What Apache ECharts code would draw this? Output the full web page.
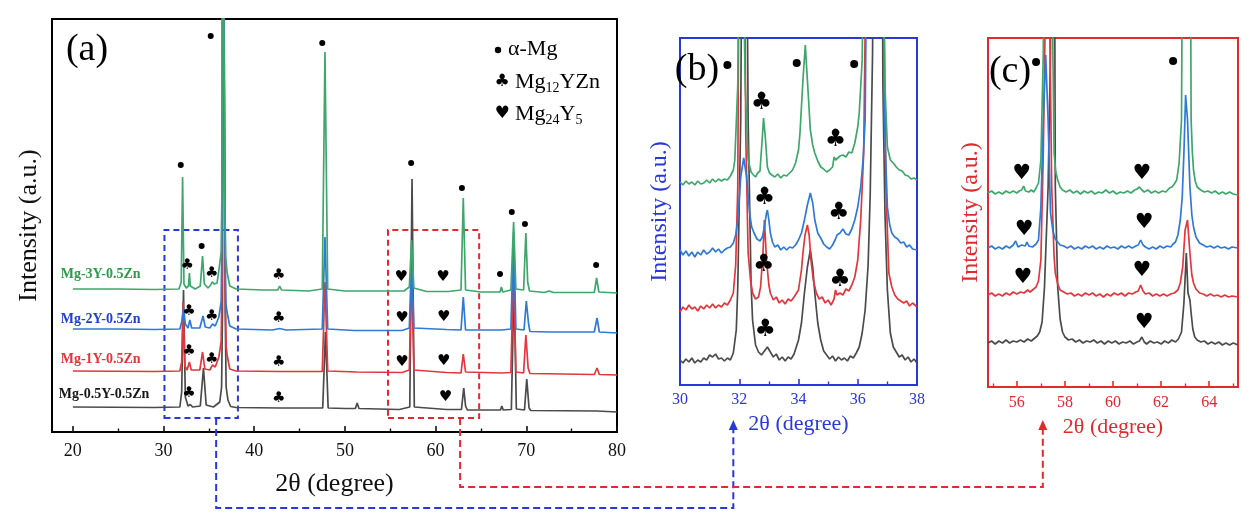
<!DOCTYPE html>
<html><head><meta charset="utf-8">
<script src="https://cdn.jsdelivr.net/npm/echarts@6.0.0/dist/echarts.min.js"></script>
<style>html,body{margin:0;padding:0;background:#fff}#c{width:1253px;height:520px}</style>
</head><body><div id="c"></div>
<script>
// ---------- DATA (2θ in degree, intensity in a.u. as plotted, stacked) ----------
const sampleNames = ['Mg-0.5Y-0.5Zn','Mg-1Y-0.5Zn','Mg-2Y-0.5Zn','Mg-3Y-0.5Zn'];

// panel (a): full patterns 20-80°
const aGrey = [[20,25],[29,24.5],[31.8,25],[32.0,40],[32.2,142],[32.4,35],[32.7,26],[32.95,27.5],[33.2,25],[34.05,26],[34.4,64],[34.7,27],[35.5,25],[36.2,30],[36.4,45],[36.5,120],[36.57,700],[36.72,700],[36.8,120],[36.9,45],[37.1,32],[37.4,25.5],[38,24.5],[42.8,24],[47.55,24],[47.85,100],[48.15,24],[50,23.5],[51.15,23.5],[51.35,29],[51.55,23.5],[56,22.5],[57.15,25],[57.4,253],[57.65,25],[61.2,22.5],[62.85,22.5],[63.1,44],[63.3,26],[63.5,22],[67.15,22],[67.3,26],[67.45,22],[68.35,22.5],[68.65,150],[68.9,23],[69.8,22],[70.05,53],[70.3,24],[70.5,21.5],[77.8,21],[80,20]];
const aRed = [[20,61],[29,60.5],[31.8,61],[32.0,70],[32.15,130],[32.35,66],[32.6,62],[32.85,70],[33.05,62],[34.0,62],[34.3,80],[34.55,63],[35.1,62],[35.4,67],[35.7,65],[36.1,75],[36.35,90],[36.47,160],[36.54,700],[36.7,700],[36.78,160],[36.9,85],[37.05,75],[37.3,63],[38,61],[42.8,60.5],[47.5,60.5],[47.8,150],[48.1,61],[51.3,60],[56.3,59.5],[57.1,62],[57.35,165],[57.6,62],[61.2,59.5],[62.8,59],[63.05,78],[63.3,60],[67.3,59],[68.3,59.5],[68.6,170],[68.85,60],[69.7,59],[69.95,97],[70.2,64],[70.4,58.5],[77.5,57.5],[77.8,64],[78.05,57.5],[80,57]];
const aBlue = [[20,103],[25,103],[29,102.5],[31.8,103],[32.0,110],[32.2,124],[32.4,108],[32.7,104],[32.9,112],[33.1,104],[34.0,104],[34.35,116],[34.6,105],[35.1,104],[35.4,108],[35.7,106],[36.1,115],[36.35,130],[36.45,200],[36.52,700],[36.68,700],[36.76,200],[36.88,128],[37.0,120],[37.3,106],[38,103],[42,102],[42.8,103.5],[43.5,102],[47.5,103],[47.8,195],[48.1,103],[51,101.5],[56.3,101.5],[57.1,104],[57.35,175],[57.6,104],[61.2,102.5],[62.8,102],[63.05,135],[63.3,102],[67.3,102],[68.3,103],[68.6,200],[68.85,103],[69.75,102],[70.0,131],[70.25,108],[70.4,100.5],[72.5,100],[77.5,100],[77.8,114],[78.05,100],[80,99]];
const aGreen = [[20,143],[25,143],[29,142.5],[31.7,143],[31.95,150],[32.1,255],[32.25,148],[32.5,144],[32.75,146],[32.85,159],[32.95,146],[33.5,143],[34.05,146],[34.3,176],[34.5,148],[34.9,144],[35.2,147],[35.35,150],[35.6,148],[35.9,149],[36.15,165],[36.35,180],[36.44,240],[36.5,700],[36.66,700],[36.74,240],[36.86,175],[37.0,160],[37.3,146],[38,143],[41,142],[42.6,142],[42.8,146],[43.0,142],[46,141],[47.5,143],[47.8,380],[48.1,143],[50,141],[53,141],[56.1,141],[56.3,143],[56.5,141],[57.1,145],[57.35,192],[57.6,144],[59,140.5],[61.0,140.5],[61.2,142],[61.4,140.5],[62.8,142],[63.05,234],[63.3,142],[65,140],[67.1,140],[67.25,145],[67.4,140],[68.3,142],[68.6,210],[68.85,143],[69.7,142],[69.95,199],[70.15,150],[70.35,141],[72,139.5],[72.5,141],[73,139.5],[77.5,139.5],[77.75,154],[78.0,140],[80,139]];

// panel (b): 30-38°
const bGrey = [[30.0,25],[30.1,22],[30.2,26],[30.3,23],[30.4,27],[30.5,22],[30.6,25],[30.7,23],[30.8,27],[30.9,25],[31.0,30],[31.1,28],[31.2,31],[31.3,26],[31.4,27],[31.5,24],[31.6,27],[31.7,25],[31.8,32],[31.9,55],[31.95,98],[32.05,265],[32.12,600],[32.22,600],[32.3,265],[32.4,100],[32.45,65],[32.55,40],[32.65,33],[32.75,30],[32.85,34],[32.95,38],[33.05,33],[33.15,28],[33.25,31],[33.35,25],[33.45,28],[33.55,24],[33.65,28],[33.75,26],[33.85,31],[34.0,45],[34.1,62],[34.2,92],[34.3,118],[34.4,135],[34.48,118],[34.55,92],[34.65,62],[34.75,45],[34.85,34],[34.95,30],[35.05,26],[35.15,29],[35.25,24],[35.35,28],[35.45,25],[35.55,27],[35.65,24],[35.75,29],[35.85,27],[35.95,32],[36.05,38],[36.15,52],[36.25,75],[36.35,120],[36.42,190],[36.5,332],[36.55,600],[36.8,600],[36.85,298],[36.92,170],[37.0,95],[37.1,52],[37.2,38],[37.3,33],[37.4,28],[37.5,30],[37.6,25],[37.7,28],[37.8,23],[37.9,26],[38.0,22]];
const bRed = [[30.0,73],[30.1,78],[30.2,75],[30.3,80],[30.4,76],[30.5,78],[30.6,74],[30.7,79],[30.8,76],[30.9,80],[31.0,77],[31.1,81],[31.2,77],[31.3,80],[31.4,78],[31.5,82],[31.6,80],[31.7,85],[31.8,92],[31.88,120],[31.95,198],[32.02,600],[32.15,600],[32.22,250],[32.3,132],[32.38,105],[32.45,92],[32.55,86],[32.65,88],[32.72,98],[32.8,132],[32.85,165],[32.92,125],[33.0,100],[33.05,92],[33.15,85],[33.25,88],[33.35,82],[33.45,85],[33.55,81],[33.65,86],[33.75,84],[33.85,88],[34.0,95],[34.1,115],[34.15,132],[34.22,150],[34.3,160],[34.36,150],[34.42,125],[34.5,105],[34.6,92],[34.7,86],[34.8,88],[34.9,82],[35.0,85],[35.1,80],[35.2,86],[35.25,95],[35.3,90],[35.4,92],[35.5,90],[35.6,96],[35.7,94],[35.8,100],[35.9,108],[36.0,125],[36.1,165],[36.2,232],[36.35,600],[36.8,600],[36.95,198],[37.05,112],[37.15,98],[37.25,90],[37.35,86],[37.45,84],[37.55,82],[37.65,84],[37.75,79],[37.85,82],[38.0,78]];
const bBlue = [[30.0,135],[30.1,130],[30.2,134],[30.3,129],[30.4,133],[30.5,128],[30.6,133],[30.7,130],[30.8,135],[30.9,131],[31.0,133],[31.1,137],[31.2,133],[31.3,136],[31.4,132],[31.5,135],[31.6,137],[31.7,138],[31.8,142],[31.88,150],[31.95,165],[32.05,208],[32.15,227],[32.25,208],[32.35,172],[32.42,158],[32.5,152],[32.6,146],[32.7,144],[32.78,148],[32.85,158],[32.92,172],[32.95,175],[33.0,165],[33.05,152],[33.12,143],[33.2,138],[33.3,140],[33.4,135],[33.5,138],[33.6,135],[33.7,138],[33.8,137],[33.9,140],[34.0,145],[34.1,152],[34.2,165],[34.3,180],[34.4,192],[34.48,182],[34.55,165],[34.65,152],[34.75,147],[34.85,141],[34.95,138],[35.05,136],[35.15,140],[35.25,146],[35.3,150],[35.4,152],[35.5,156],[35.6,151],[35.7,150],[35.8,156],[35.9,165],[36.0,178],[36.1,198],[36.18,225],[36.25,265],[36.35,600],[36.8,600],[36.9,265],[37.0,178],[37.08,160],[37.15,152],[37.25,148],[37.35,146],[37.45,142],[37.55,143],[37.65,138],[37.75,140],[37.85,136],[38.0,135]];
const bGreen = [[30.0,203],[30.1,200],[30.2,204],[30.3,201],[30.4,203],[30.5,200],[30.6,204],[30.7,201],[30.8,202],[30.9,205],[31.0,202],[31.1,206],[31.2,203],[31.3,206],[31.4,204],[31.5,206],[31.6,205],[31.7,209],[31.8,215],[31.85,225],[31.95,300],[32.05,600],[32.2,300],[32.3,225],[32.4,213],[32.48,210],[32.55,208],[32.62,212],[32.7,214],[32.78,248],[32.82,267],[32.88,248],[32.95,218],[33.02,212],[33.1,210],[33.2,208],[33.3,211],[33.4,207],[33.5,210],[33.6,209],[33.7,212],[33.8,215],[33.9,222],[34.0,235],[34.05,252],[34.15,305],[34.23,340],[34.3,305],[34.4,255],[34.48,240],[34.55,232],[34.65,224],[34.75,218],[34.85,216],[34.95,213],[35.05,215],[35.15,218],[35.2,228],[35.25,225],[35.3,227],[35.4,229],[35.5,230],[35.6,228],[35.7,233],[35.8,232],[35.9,242],[36.0,258],[36.05,272],[36.15,325],[36.25,600],[36.8,600],[36.92,298],[37.0,238],[37.1,225],[37.2,222],[37.3,218],[37.4,215],[37.5,214],[37.6,210],[37.7,209],[37.8,206],[37.9,207],[38.0,205]];

// panel (c): 55-65°
const cGrey = [[54.8,44],[54.95,46],[55.1,43],[55.25,46],[55.4,44],[55.55,47],[55.7,44],[55.85,46],[56.0,45],[56.15,47],[56.3,45],[56.45,48],[56.6,46],[56.75,49],[56.85,51],[56.95,55],[57.05,65],[57.15,100],[57.3,200],[57.4,334],[57.45,600],[57.55,600],[57.6,200],[57.7,100],[57.8,68],[57.9,55],[58.0,50],[58.15,47],[58.3,48],[58.45,45],[58.6,47],[58.75,44],[58.9,46],[59.05,45],[59.2,47],[59.35,44],[59.5,46],[59.65,43],[59.8,46],[59.95,44],[60.1,46],[60.25,43],[60.4,45],[60.55,44],[60.7,46],[60.85,43],[61.0,45],[61.1,46],[61.2,50],[61.3,45],[61.4,43],[61.55,46],[61.7,44],[61.85,45],[62.0,43],[62.15,46],[62.3,44],[62.45,47],[62.6,45],[62.72,48],[62.85,55],[62.95,84],[63.05,134],[63.12,94],[63.2,87],[63.25,74],[63.32,58],[63.4,50],[63.5,47],[63.65,45],[63.8,46],[63.95,43],[64.1,45],[64.25,43],[64.4,45],[64.55,42],[64.7,44],[64.85,42],[65.0,44],[65.2,42]];
const cRed = [[54.8,92],[54.95,94],[55.1,91],[55.25,93],[55.4,91],[55.55,94],[55.7,92],[55.85,95],[56.0,93],[56.15,95],[56.3,94],[56.45,97],[56.55,95],[56.7,98],[56.8,100],[56.9,106],[57.0,127],[57.1,234],[57.2,400],[57.35,400],[57.45,200],[57.55,130],[57.6,114],[57.7,103],[57.8,97],[57.95,95],[58.1,93],[58.25,94],[58.4,91],[58.55,93],[58.7,91],[58.85,94],[59.0,92],[59.15,94],[59.3,91],[59.45,93],[59.6,90],[59.75,93],[59.9,91],[60.05,94],[60.2,92],[60.35,94],[60.5,91],[60.65,94],[60.8,93],[60.95,95],[61.05,96],[61.15,102],[61.25,96],[61.35,93],[61.5,94],[61.65,91],[61.8,93],[61.95,91],[62.1,93],[62.25,91],[62.4,93],[62.55,94],[62.7,97],[62.8,104],[62.9,120],[63.0,157],[63.1,167],[63.2,134],[63.28,112],[63.35,104],[63.45,98],[63.6,94],[63.75,93],[63.9,91],[64.05,93],[64.2,91],[64.35,92],[64.5,90],[64.65,92],[64.8,90],[64.95,91],[65.2,90]];
const cBlue = [[54.8,139],[54.95,141],[55.1,138],[55.25,140],[55.4,138],[55.55,141],[55.7,139],[55.85,142],[55.95,146],[56.05,140],[56.2,142],[56.35,141],[56.42,145],[56.5,141],[56.65,140],[56.8,143],[56.9,147],[57.0,180],[57.1,267],[57.2,332],[57.3,267],[57.4,174],[57.5,156],[57.6,148],[57.7,145],[57.8,142],[57.95,141],[58.1,139],[58.25,141],[58.4,138],[58.55,140],[58.7,138],[58.85,141],[59.0,139],[59.15,141],[59.3,138],[59.45,140],[59.6,138],[59.75,141],[59.9,139],[60.05,140],[60.2,138],[60.35,141],[60.5,139],[60.65,141],[60.8,139],[60.95,141],[61.05,142],[61.15,147],[61.25,142],[61.35,140],[61.5,138],[61.65,140],[61.8,138],[61.95,141],[62.1,139],[62.25,141],[62.4,140],[62.5,143],[62.6,145],[62.7,152],[62.8,167],[62.88,190],[62.95,234],[63.02,292],[63.1,267],[63.2,200],[63.28,172],[63.35,160],[63.45,150],[63.6,144],[63.75,142],[63.9,140],[64.05,141],[64.2,139],[64.35,141],[64.5,139],[64.65,140],[64.8,138],[64.95,140],[65.2,139]];
const cGreen = [[54.8,194],[54.95,196],[55.1,193],[55.25,195],[55.4,193],[55.55,196],[55.7,194],[55.85,196],[56.0,194],[56.1,196],[56.2,197],[56.28,201],[56.36,196],[56.5,195],[56.6,197],[56.7,195],[56.8,199],[56.9,204],[57.0,227],[57.1,334],[57.15,600],[57.45,600],[57.5,334],[57.55,234],[57.62,215],[57.7,207],[57.8,200],[57.9,197],[58.05,195],[58.2,197],[58.35,194],[58.5,196],[58.65,193],[58.8,196],[58.95,194],[59.1,196],[59.25,193],[59.4,195],[59.55,194],[59.7,197],[59.85,194],[60.0,196],[60.15,193],[60.3,195],[60.45,194],[60.6,196],[60.75,194],[60.9,197],[61.0,198],[61.1,200],[61.2,197],[61.3,195],[61.45,197],[61.6,194],[61.75,196],[61.9,194],[62.05,196],[62.2,195],[62.35,199],[62.45,200],[62.55,203],[62.65,207],[62.75,224],[62.85,267],[62.92,600],[63.2,600],[63.25,267],[63.3,235],[63.35,217],[63.42,206],[63.5,200],[63.65,197],[63.8,195],[63.95,196],[64.1,194],[64.25,196],[64.4,193],[64.55,195],[64.7,193],[64.85,195],[65.0,193],[65.2,192]];

// phase markers  (● α-Mg, ♣ Mg12YZn, ♥ Mg24Y5)
const aDots = [[31.9,267],[34.2,186],[35.2,396],[47.5,389],[57.3,269],[62.9,244],[67.1,158],[68.4,220],[69.85,208],[77.7,167]];
const aClubs = [[32.6,167],[35.3,159],[42.7,157],[32.8,121],[35.3,116],[42.7,114],[32.8,81],[35.3,73],[42.7,70],[32.8,39],[42.7,34]];
const aHearts = [[56.2,155],[60.8,155],[56.3,114],[60.9,115],[56.3,70],[60.9,71],[61.1,35]];
const bDots = [[31.6,320],[33.94,322],[35.88,321]];
const bClubs = [[32.75,282],[35.25,245],[32.85,187],[35.36,172],[32.83,120],[35.4,105],[32.88,55]];
const cDots = [[56.8,325],[62.5,326]];
const cHearts = [[56.2,213],[61.2,213],[56.3,157],[61.3,164],[56.25,109],[61.2,116],[61.3,64]];

// sample name anchors in panel (a)
const aNameAnchors = [[18.4,38],[18.6,73],[18.6,113],[18.6,158]];

// zoom windows drawn in panel (a)
const zoomB = [30.1, 38.2];
const zoomC = [54.75, 64.8];

// tick values
const aMajor = [20,30,40,50,60,70,80], aMinor = [25,35,45,55,65,75];
const bMajor = [30,32,34,36,38], bMinor = [31,33,35,37];
const cMajor = [56,58,60,62,64], cMinor = [55,57,59,61,63,65];

// ---------- STYLE ----------
const SERIF = 'Liberation Serif';
const GLYPH = 'DejaVu Sans';
const COL = ['#4b4b4b','#e2373c','#2e7ad6','#3ea76b'];
const NAMECOL = ['#161616','#e23535','#1f3fcf','#2e9a4c'];
const BLUE_ACC = '#2a37dc', RED_ACC = '#e2292e';

const chart = echarts.init(document.getElementById('c'), null, {renderer:'canvas'});

function xAxes(grid, min, max, major, minor, color, fs, margin, name, nameSize, nameGap){
  return [
    {gridIndex:grid, type:'value', min, max, position:'bottom',
     axisLine:{show:false}, splitLine:{show:false},
     axisTick:{show:true, inside:true, customValues:major, length:6, lineStyle:{color, width:1.6}},
     axisLabel:{show:true, customValues:major, color, fontFamily:SERIF, fontSize:fs, margin},
     name, nameLocation:'middle', nameGap, nameTextStyle:{color, fontFamily:SERIF, fontSize:nameSize}},
    {gridIndex:grid, type:'value', min, max, position:'bottom',
     axisLine:{show:false}, splitLine:{show:false}, axisLabel:{show:false},
     axisTick:{show:true, inside:true, customValues:minor, length:3.5, lineStyle:{color, width:1.4}}}
  ];
}
function yAxis(grid, max, color, nameSize, nameGap){
  return {gridIndex:grid, type:'value', min:0, max, axisLine:{show:false}, axisTick:{show:false},
    axisLabel:{show:false}, splitLine:{show:false},
    name:'Intensity (a.u.)', nameLocation:'middle', nameGap,
    nameTextStyle:{color, fontFamily:SERIF, fontSize:nameSize}};
}
function line(data, color, xi, yi, w){
  return {type:'line', data, xAxisIndex:xi, yAxisIndex:yi, symbol:'none', showSymbol:false,
    lineStyle:{color, width:w}, itemStyle:{color}, clip:true, silent:true, z:2};
}
function dots(data, xi, yi, size){
  return {type:'scatter', data, xAxisIndex:xi, yAxisIndex:yi, symbol:'circle', symbolSize:size,
    itemStyle:{color:'#000', opacity:1}, silent:true, z:4};
}
function glyphs(data, xi, yi, ch, fs){
  return {type:'scatter', data, xAxisIndex:xi, yAxisIndex:yi, symbolSize:1,
    itemStyle:{color:'rgba(0,0,0,0)', opacity:1}, silent:true, z:4,
    label:{show:true, position:'inside', formatter:ch, fontFamily:GLYPH, fontSize:fs, color:'#000', opacity:1}};
}

const series = [];
[[aGrey,aRed,aBlue,aGreen,0,0,1.7],[bGrey,bRed,bBlue,bGreen,2,1,1.7],[cGrey,cRed,cBlue,cGreen,4,2,1.7]]
  .forEach(([g,r,b,gr,xi,yi,w])=>{
    [g,r,b,gr].forEach((d,i)=>series.push(line(d, COL[i], xi, yi, w)));
  });
series.push(dots(aDots,0,0,6), glyphs(aClubs,0,0,'♣',15), glyphs(aHearts,0,0,'♥',15));
series.push(dots(bDots,2,1,8), glyphs(bClubs,2,1,'♣',24));
series.push(dots(cDots,4,2,8), glyphs(cHearts,4,2,'♥',21));
// sample names
series.push({type:'scatter', xAxisIndex:0, yAxisIndex:0, symbolSize:1, silent:true, z:4,
  itemStyle:{color:'rgba(0,0,0,0)', opacity:1},
  data: aNameAnchors.map((p,i)=>({value:p, name:sampleNames[i],
    label:{show:true, position:'right', distance:0, formatter:'{b}', color:NAMECOL[i], opacity:1,
      fontFamily:SERIF, fontWeight:'bold', fontSize:14}}))});
// dashed zoom boxes
series.push({type:'line', xAxisIndex:0, yAxisIndex:0, data:[], z:5,
  markArea:{silent:true, data:[
    [{coord:[zoomB[0],14], itemStyle:{color:'rgba(0,0,0,0)', borderColor:BLUE_ACC, borderWidth:2, borderType:[6,4]}},{coord:[zoomB[1],202]}],
    [{coord:[zoomC[0],14], itemStyle:{color:'rgba(0,0,0,0)', borderColor:RED_ACC, borderWidth:2, borderType:[6,4]}},{coord:[zoomC[1],202]}]
  ]}});

const option = {
  animation:false,
  backgroundColor:'#fff',
  grid:[
    {left:52, top:19, width:565, height:413, show:true, borderColor:'#000', borderWidth:2, backgroundColor:'rgba(0,0,0,0)'},
    {left:680, top:38, width:237, height:347, show:true, borderColor:BLUE_ACC, borderWidth:2, backgroundColor:'rgba(0,0,0,0)'},
    {left:988, top:38, width:250, height:349, show:true, borderColor:RED_ACC, borderWidth:2, backgroundColor:'rgba(0,0,0,0)'}
  ],
  xAxis:[
    ...xAxes(0,17.7,80,aMajor,aMinor,'#111',18,10,'2θ (degree)',26,39),
    ...xAxes(1,30,38,bMajor,bMinor,BLUE_ACC,16,7,'2θ (degree)',22,26),
    ...xAxes(2,54.8,65.2,cMajor,cMinor,RED_ACC,16,8,'2θ (degree)',22,21)
  ],
  yAxis:[ yAxis(0,413,'#111',26,10), yAxis(1,347,BLUE_ACC,24,8), yAxis(2,349,RED_ACC,24,5) ],
  series
};
chart.setOption(option);

// ---------- annotations: panel letters, legend, connectors ----------
const pA = v=>chart.convertToPixel({xAxisIndex:0,yAxisIndex:0},v);
const pB = v=>chart.convertToPixel({xAxisIndex:2,yAxisIndex:1},v);
const pC = v=>chart.convertToPixel({xAxisIndex:4,yAxisIndex:2},v);

const bx0 = pA([35.8,14]), cx0 = pA([62.7,14]);
const bx1 = pB([31.8,0])[0], cx1 = pC([57.08,0])[0];
const dash = [7,4];
function connector(x0,y0,yMid,x1,color){
  return [
    {type:'polyline', z:20, shape:{points:[[x0,y0],[x0,yMid],[x1,yMid],[x1,429]]},
     style:{stroke:color, lineWidth:2, lineDash:dash, fill:null}},
    {type:'polygon', z:20, shape:{points:[[x1,420],[x1-4.5,430],[x1+4.5,430]]}, style:{fill:color}}
  ];
}
const txt = (x,y,text,fs,extra)=>Object.assign({type:'text', z:20, x, y,
  style:Object.assign({text, fontFamily:SERIF, fontSize:fs, fill:'#000', align:'center', verticalAlign:'middle'}, extra||{})});

const rich = {n:{fontFamily:SERIF, fontSize:22, fill:'#000'}, s:{fontFamily:SERIF, fontSize:14, padding:[12,0,0,0], fill:'#000'}};
chart.setOption({graphic:[
  ...connector(bx0[0], bx0[1], 508, bx1, BLUE_ACC),
  ...connector(cx0[0], cx0[1], 487, cx1, RED_ACC),
  txt(87,50,'(a)',38),
  txt(697,70,'(b)',38),
  txt(1010,72,'(c)',38),
  {type:'circle', z:20, shape:{cx:498, cy:50, r:3.2}, style:{fill:'#000'}},
  txt(508,49,'α-Mg',22,{align:'left'}),
  txt(502,82,'♣',17,{fontFamily:GLYPH}),
  {type:'text', z:20, x:515, y:82, style:{text:'{n|Mg}{s|12}{n|YZn}', rich, align:'left', verticalAlign:'middle'}},
  txt(502,114,'♥',17,{fontFamily:GLYPH}),
  {type:'text', z:20, x:515, y:114, style:{text:'{n|Mg}{s|24}{n|Y}{s|5}', rich, align:'left', verticalAlign:'middle'}}
]});
</script></body></html>
